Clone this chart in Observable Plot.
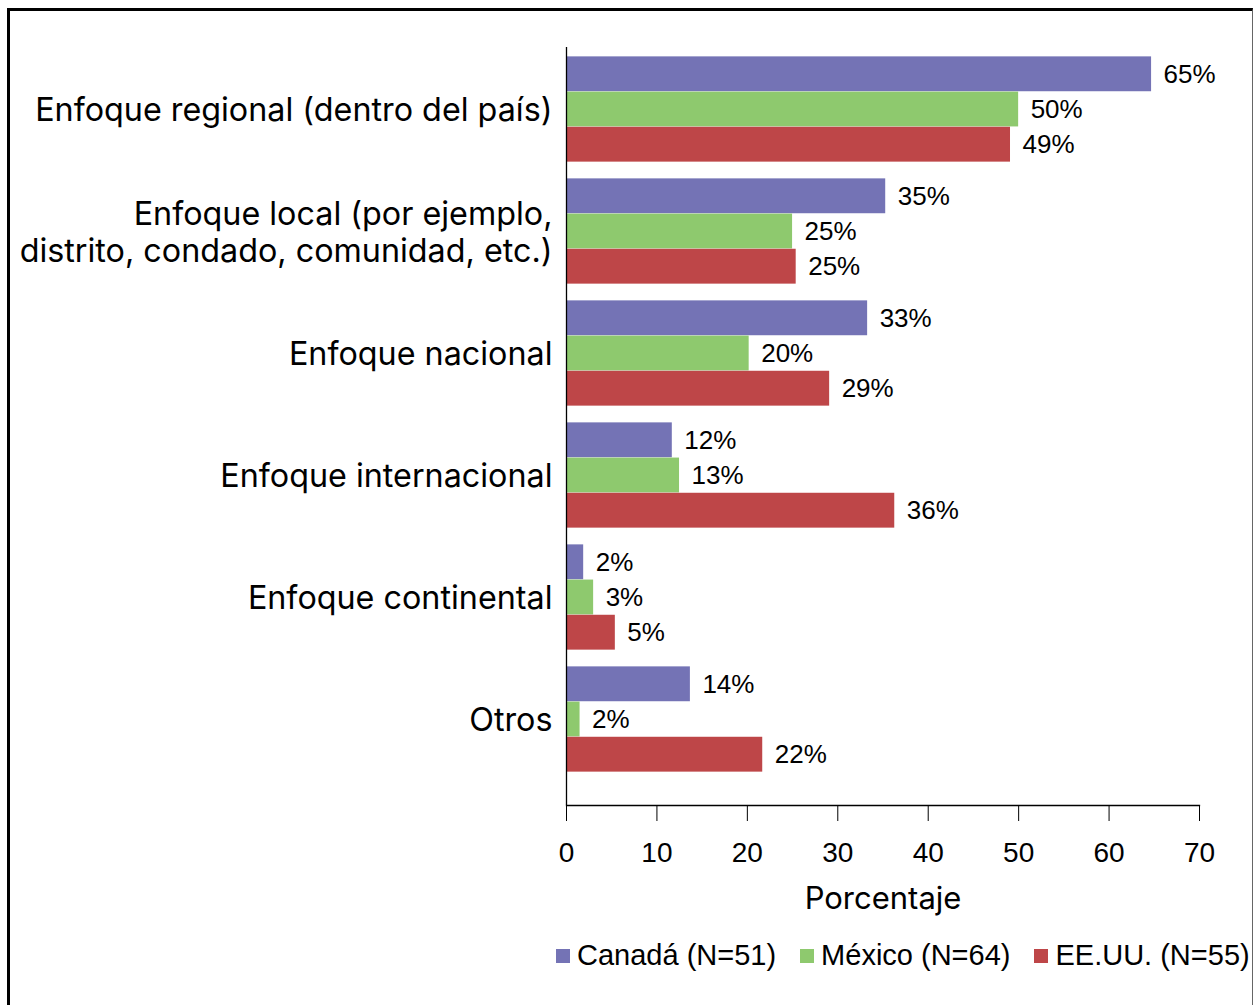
<!DOCTYPE html>
<html><head><meta charset="utf-8">
<script src="https://cdn.jsdelivr.net/npm/d3@7"></script>
<script src="https://cdn.jsdelivr.net/npm/@observablehq/plot@0.6"></script>
<style>
body{margin:0;background:#fff;}
#wrap{position:relative;width:1255px;height:1005px;overflow:hidden;background:#fff;}
#border{position:absolute;left:7px;top:8px;width:1242px;height:1100px;border-left:3px solid #000;border-top:3px solid #000;border-right:1px solid #666;}
#chart{position:absolute;left:0;top:0;}
#legend{position:absolute;left:556px;top:939px;display:flex;align-items:center;font-family:"Liberation Sans",Arial,sans-serif;font-size:29px;color:#000;white-space:nowrap;}
.item{display:flex;align-items:center;margin-right:24px;}
.sw{width:14px;height:14px;margin-right:7px;}
</style></head><body>
<div id="wrap"><div id="border"></div><div id="chart"></div><div id="legend"></div></div>
<script>
const categories = [
  "Enfoque regional (dentro del país)",
  "Enfoque local (por ejemplo,\ndistrito, condado, comunidad, etc.)",
  "Enfoque nacional",
  "Enfoque internacional",
  "Enfoque continental",
  "Otros"
];
const series = ["Canadá (N=51)", "México (N=64)", "EE.UU. (N=55)"];
const colors = ["#7473B5", "#8EC96E", "#BE4648"];
const canada = [64.7, 35.3, 33.3, 11.7, 1.9, 13.7];
const mexico = [50.0, 25.0, 20.2, 12.5, 3.0, 1.5];
const usa = [49.1, 25.4, 29.1, 36.3, 5.4, 21.7];
const xTicks = [0, 10, 20, 30, 40, 50, 60, 70];
const xLabel = "Porcentaje";

const seriesValues = [canada, mexico, usa];
const rows = categories.flatMap((c, i) => series.map((s, j) => ({category: c, series: s, value: seriesValues[j][i]})));

const yTop = 46.6, yBottom = 780.6;
const band = (yBottom - yTop) / categories.length;
const barH = 35.2;
const gap = (band - 3 * barH) / 2;

const barMarks = series.map((s, j) => Plot.barX(rows.filter(r => r.series === s), {
  x: "value", y: "category", fill: colors[j],
  insetTop: gap + j * barH, insetBottom: band - (gap + j * barH) - barH
}));
const labelMarks = series.map((s, j) => Plot.text(rows.filter(r => r.series === s), {
  x: "value", y: "category", text: d => Math.round(d.value) + "%",
  dx: 12, dy: (j - 1) * barH, textAnchor: "start",
  fontSize: 26, fontFamily: "Liberation Sans", fill: "#000"
}));

const chart = Plot.plot({
  width: 1255, height: 930,
  marginTop: 47, marginBottom: 125, marginLeft: 566, marginRight: 56,
  style: {fontFamily: "Liberation Sans", color: "#000", background: "transparent"},
  x: {domain: [0, 70]},
  y: {domain: categories, range: [yTop, yBottom], padding: 0, axis: null},
  marks: [
    ...barMarks,
    ...labelMarks,
    Plot.ruleX([0], {stroke: "#000", strokeWidth: 1.3}),
    Plot.frame({anchor: "bottom", stroke: "#000", strokeWidth: 1.3}),
    Plot.axisX({ticks: xTicks, tickSize: 16, tickPadding: 21, fontSize: 28, fontFamily: "Liberation Sans", label: null, stroke: "#000"}),
    Plot.text([xLabel], {frameAnchor: "bottom", lineAnchor: "middle", dy: 94, fontSize: 31, fontFamily: "Inter", fill: "#000"}),
    Plot.text(categories, {y: d => d, frameAnchor: "left", textAnchor: "end", lineAnchor: "middle", dx: -14, dy: 0, fontSize: 32.3, fontFamily: "Inter", lineHeight: 1.155, fill: "#000"})
  ]
});
document.getElementById("chart").appendChild(chart);

const legend = document.getElementById("legend");
series.forEach((s, j) => {
  const item = document.createElement("div");
  item.className = "item";
  const sw = document.createElement("span");
  sw.className = "sw";
  sw.style.background = colors[j];
  const t = document.createElement("span");
  t.textContent = s;
  item.appendChild(sw); item.appendChild(t);
  legend.appendChild(item);
});
</script>
</body></html>
